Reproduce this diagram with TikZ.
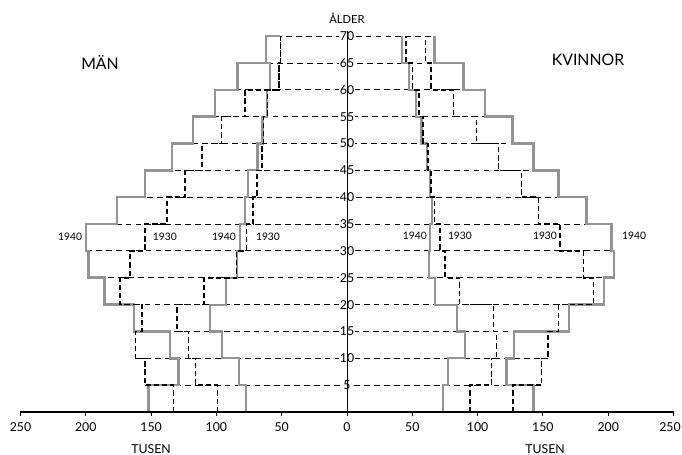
\documentclass[tikz,border=0pt]{standalone}
\usepackage{fontspec}
\setmainfont{Lato}
\begin{document}
\begin{tikzpicture}[x=.03cm,y=.03cm,
pop40/.style={line width=2.2pt,black!42},
inner40/.style={line width=1.8pt,black!42},
pop30/.style={line width=1.3pt,dash pattern=on 4.5pt off 2.5pt},
ageline/.style={line width=.7pt,dash pattern=on 5pt off 3.5pt},
agenum/.style={fill=white,inner sep=.6pt,font=\fontsize{10.5}{11}\selectfont},
yearlbl/.style={font=\fontsize{8.8}{9}\selectfont},
axnum/.style={font=\fontsize{10.5}{11}\selectfont}]
\useasboundingbox(-347,-43)rectangle(335,412);
% age grid
\begin{scope}[xscale=1.306,yscale=5.37]
\draw[ageline](-154.7,5)--(149,5);
\draw[ageline](-162,10)--(154,10);
\draw[ageline](-163,15)--(170,15);
\draw[ageline](-185.5,20)--(196.8,20);
\draw[ageline](-198,25)--(204.4,25);
\draw[ageline](-200,30)--(204.4,30);
\draw[ageline](-200,35)--(202.7,35);
\draw[ageline](-176,40)--(183.5,40);
\draw[ageline](-154.7,45)--(161.8,45);
\draw[ageline](-134,50)--(142.7,50);
\draw[ageline](-118,55)--(126.9,55);
\draw[ageline](-101,60)--(105.7,60);
\draw[ageline](-84,65)--(89,65);
\draw[ageline](-62,70)--(67,70);
\foreach\a in{5,10,...,70}\node[agenum]at(0,\a){\a};
\draw[line width=.8pt](0,0)--(0,71);
\node[font=\fontsize{9.5}{10}\selectfont]at(0,73.4){ÅLDER};
\end{scope}
% men
\begin{scope}[xscale=-1.306,yscale=5.37]
\draw[pop40](152,0)|-(129,5)|-(135.5,10)|-(163,15)|-(185.5,20)|-(198,25)|-(200,30)|-(176,35)|-(154.7,40)|-(134,45)|-(118,50)|-(101,55)|-(84,60)|-(62,65)--(62,70)--(51,70);
\draw[inner40](77.6,0)|-(82.4,5)|-(96,10)|-(105,15)|-(92.6,20)|-(84.5,25)|-(82,30)|-(78,35)|-(75.5,40)|-(68.5,45)|-(64.7,50)|-(61,55)|-(59,60)|-(62,65)--(62,70);
\draw[pop30](133,0)|-(154.7,5)|-(162,10)|-(157,15)|-(174,20)|-(166,25)|-(154.6,30)|-(138,35)|-(124,40)|-(111,45)|-(96,50)|-(78,55)|-(52,60)|-(51,65)--(51,70);
\draw[pop30](99.3,0)|-(116,5)|-(121.5,10)|-(130,15)|-(109.5,20)|-(84.5,25)|-(77,30)|-(72,35)|-(69,40)|-(65,45)|-(64,50)|-(61,55)|-(52,60)|-(51,65)--(51,70);
\node[yearlbl]at(212,32.6){1940};
\node[yearlbl]at(139.4,32.6){1930};
\node[yearlbl]at(94.2,32.6){1940};
\node[yearlbl]at(60.5,32.6){1930};
\end{scope}
% women
\begin{scope}[xscale=1.306,yscale=5.37]
\draw[pop40](142.7,0)|-(122.3,5)|-(128,10)|-(170,15)|-(196.8,20)|-(204.4,25)|-(202.7,30)|-(183.5,35)|-(161.8,40)|-(142.7,45)|-(126.9,50)|-(105.7,55)|-(89,60)|-(67,65)--(67,70);
\draw[inner40](73.8,0)|-(77.6,5)|-(90.3,10)|-(84.5,15)|-(67.4,20)|-(63,25)|-(63.5,30)|-(64.8,35)|-(63.5,40)|-(61,45)|-(57,50)|-(53,55)|-(47.5,60)|-(42,65)--(42,70);
\draw[pop30](127.3,0)|-(149,5)|-(154,10)|-(162,15)|-(188.6,20)|-(181,25)|-(163,30)|-(146.5,35)|-(133.7,40)|-(115.9,45)|-(99.3,50)|-(81.4,55)|-(64.3,60)|-(60,65)--(60,70);
\draw[pop30](94,0)|-(110.8,5)|-(114.6,10)|-(112,15)|-(86,20)|-(75,25)|-(71.2,30)|-(67,35)|-(64.5,40)|-(62,45)|-(58,50)|-(55,55)|-(50,60)|-(45,65)--(45,70);
\node[yearlbl]at(52,32.8){1940};
\node[yearlbl]at(86.5,32.8){1930};
\node[yearlbl]at(151.6,32.8){1930};
\node[yearlbl]at(219.8,32.8){1940};
\end{scope}
% base line
\begin{scope}[xscale=1.306]
\draw[line width=1.6pt](-250,0)--(250,0);
\foreach\v/\t in{-250/250,-200/200,-150/150,-100/100,-50/50,0/0,50/50,100/100,150/150,200/200}{
\draw[line width=.8pt](\v,0)--(\v,-4);
\node[axnum]at(\v,-15){\t};}
\draw[line width=.8pt](250,0)--(250,-4);
\end{scope}
\node[axnum,anchor=east,inner sep=.5pt]at(334.5,-15){250};
\node[axnum]at(-196,-37){TUSEN};
\node[axnum]at(198,-37){TUSEN};
\node[font=\fontsize{13.5}{14}\selectfont]at(-247,350){MÄN};
\node[font=\fontsize{13.5}{14}\selectfont]at(241,352){KVINNOR};
\end{tikzpicture}
\end{document}
